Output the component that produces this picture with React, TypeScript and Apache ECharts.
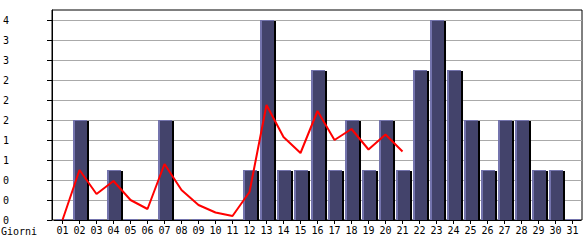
import React, { useEffect, useRef } from "react";
import * as echarts from "echarts";

const days = ["01","02","03","04","05","06","07","08","09","10","11","12","13","14","15","16","17","18","19","20","21","22","23","24","25","26","27","28","29","30","31"];
const barValues = [0,2,0,1,0,0,2,0,0,0,0,1,4,1,1,3,1,2,1,2,1,3,4,3,2,1,2,2,1,1,0];
const lineValues: (number | null)[] = [0,1.0,0.52,0.78,0.4,0.22,1.12,0.6,0.3,0.15,0.08,0.56,2.3,1.66,1.34,2.18,1.6,1.82,1.41,1.71,1.37,null,null,null,null,null,null,null,null,null,null];
const yTicks = [0,0.4,0.8,1.2,1.6,2.0,2.4,2.8,3.2,3.6,4.0];
const yTickLabels = ["0","0","0","1","1","2","2","2","3","3","4"];
const xAxisTitle = "Giorni";

const FONT = "DejaVu Sans Mono";
const NAVY = "#43436b";
const LAVENDER = "#7474ad";

export default function App() {
  const ref = useRef<HTMLDivElement>(null);
  useEffect(() => {
    document.body.style.margin = "0";
    const chart = echarts.init(ref.current!, null, { renderer: "svg" });
    const labelFor = (v: number) => {
      let best = 0;
      for (let i = 0; i < yTicks.length; i++) if (Math.abs(yTicks[i] - v) < Math.abs(yTicks[best] - v)) best = i;
      return Math.abs(yTicks[best] - v) < 1e-6 ? yTickLabels[best] : "";
    };
    chart.setOption({
      animation: false,
      grid: [
        { left: 50, right: 3, top: 10, bottom: 20, show: true, borderColor: "#000", borderWidth: 1, backgroundColor: "transparent" },
        { left: 54, right: 4, top: 10, bottom: 20 },
      ],
      xAxis: [
        { type: "value", gridIndex: 0, min: 0, max: 1, show: false },
        {
          type: "category", gridIndex: 1, data: days, boundaryGap: true,
          axisLine: { show: true, lineStyle: { color: "#000", width: 1 } },
          axisTick: { show: true, alignWithLabel: true, length: 4, lineStyle: { color: "#000" } },
          axisLabel: { interval: 0, margin: 5, color: "#000", fontFamily: FONT, fontSize: 10 },
          splitLine: { show: false },
        },
      ],
      yAxis: [
        {
          type: "value", gridIndex: 0, min: 0, max: 4.2, interval: 0.4,
          axisLine: { show: true, lineStyle: { color: "#000", width: 1 } },
          axisTick: { show: true, length: 5, lineStyle: { color: "#000" }, customValues: yTicks },
          axisLabel: { align: "left", margin: 49, color: "#000", fontFamily: FONT, fontSize: 10, customValues: yTicks, formatter: (v: number) => labelFor(v) },
          splitLine: { show: true, lineStyle: { color: "#aaaaaa", width: 1 } },
        },
        { type: "value", gridIndex: 1, min: 0, max: 4.2, show: false },
      ],
      series: [
        {
          type: "custom",
          xAxisIndex: 1,
          yAxisIndex: 1,
          data: barValues.map((v, i) => [i, v]),
          renderItem: (params: any, api: any) => {
            const top = api.coord([api.value(0), api.value(1)]);
            const base = api.coord([api.value(0), 0]);
            const bw = Math.round(api.size([1, 0])[0] * 0.82);
            const left = Math.round(top[0] - bw / 2);
            const y0 = Math.round(base[1]);
            const yt = Math.min(Math.round(top[1]), y0 - 1);
            const h = y0 - yt;
            const children: any[] = [];
            if (h > 1) {
              children.push({ type: "rect", shape: { x: left + 2, y: yt + 1, width: bw, height: h - 1 }, style: { fill: "#000" } });
            }
            children.push({ type: "rect", shape: { x: left, y: yt, width: bw, height: h }, style: { fill: LAVENDER } });
            if (h > 1) {
              children.push({ type: "rect", shape: { x: left + 2, y: yt + 1, width: bw - 2, height: h - 1 }, style: { fill: NAVY } });
            }
            return { type: "group", children };
          },
          z: 2,
        },
        {
          type: "line",
          xAxisIndex: 1,
          yAxisIndex: 1,
          data: lineValues,
          showSymbol: false,
          symbol: "none",
          lineStyle: { color: "#ff0000", width: 2 },
          z: 3,
        },
      ],
      graphic: [
        { type: "text", left: 1, top: 226, style: { text: xAxisTitle, fill: "#000", font: `10px "${FONT}"` } },
      ],
    });
    return () => chart.dispose();
  }, []);
  return <div ref={ref} style={{ width: 585, height: 240 }} />;
}
